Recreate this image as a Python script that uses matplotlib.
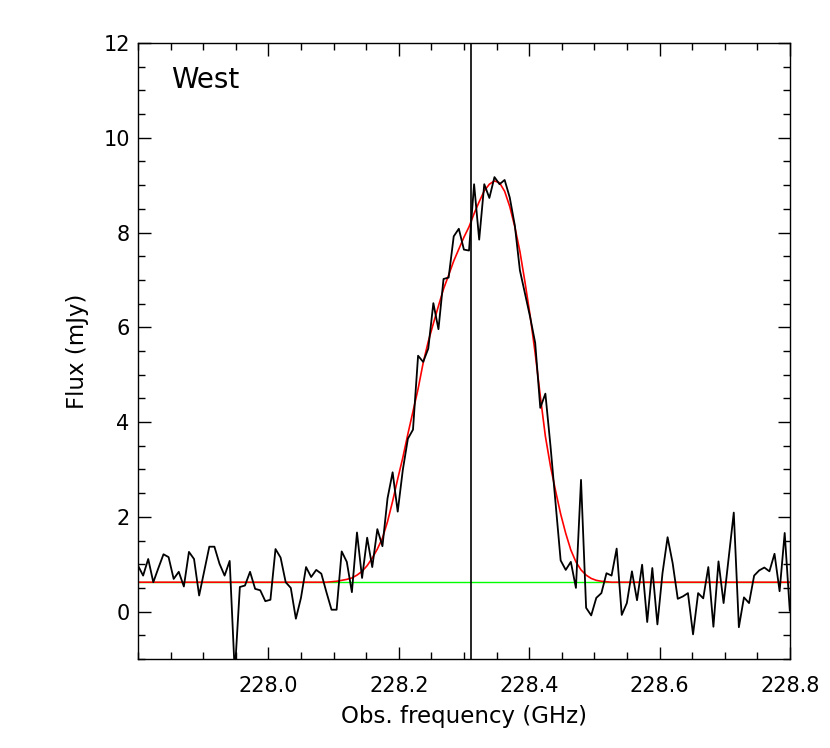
import numpy as np
import matplotlib
matplotlib.use("Agg")
import matplotlib.pyplot as plt
from matplotlib.ticker import MultipleLocator

# spectrum channels (GHz)
freq_start = 227.8
chan_width = 0.00781

flux = [
    0.97, 0.76, 1.11, 0.62, 0.92, 1.21, 1.15, 0.69, 0.84, 0.53,
    1.26, 1.11, 0.34, 0.85, 1.37, 1.37, 1.01, 0.76, 1.07, -1.3,
    0.52, 0.55, 0.84, 0.48, 0.45, 0.22, 0.25, 1.32, 1.14, 0.62,
    0.50, -0.15, 0.29, 0.94, 0.73, 0.88, 0.80, 0.41, 0.04, 0.04,
    1.27, 1.05, 0.41, 1.67, 0.71, 1.56, 0.94, 1.74, 1.38, 2.39,
    2.94, 2.11, 2.99, 3.65, 3.84, 5.40, 5.27, 5.55, 6.51, 5.96,
    7.02, 7.05, 7.92, 8.08, 7.64, 7.62, 9.02, 7.85, 9.02, 8.73,
    9.17, 9.02, 9.11, 8.74, 8.15, 7.20, 6.71, 6.22, 5.67, 4.30,
    4.60, 3.50, 2.30, 1.08, 0.88, 1.05, 0.50, 2.78, 0.08, -0.08,
    0.29, 0.39, 0.81, 0.76, 1.33, -0.07, 0.18, 0.85, 0.24, 0.99,
    -0.22, 0.92, -0.27, 0.81, 1.57, 1.02, 0.27, 0.32, 0.39, -0.48,
    0.39, 0.28, 0.94, -0.32, 1.06, 0.18, 1.14, 2.09, -0.33, 0.30,
    0.18, 0.76, 0.87, 0.93, 0.85, 1.22, 0.43, 1.66, 0.02,
]

# continuum level and fitted line profile (channels 38-92), mJy
continuum = 0.62
fit_first_chan = 38
fit_core = [
    0.63, 0.64, 0.66, 0.68, 0.71, 0.77, 0.85, 0.97, 1.13, 1.32,
    1.55, 1.90, 2.33, 2.80, 3.25, 3.75, 4.22, 4.70, 5.25, 5.70,
    6.08, 6.45, 6.81, 7.10, 7.40, 7.65, 7.90, 8.12, 8.40, 8.65,
    8.88, 9.02, 9.09, 9.05, 8.87, 8.55, 8.12, 7.60, 6.95, 6.25,
    5.45, 4.55, 3.70, 3.07, 2.55, 2.06, 1.65, 1.30, 1.05, 0.88,
    0.77, 0.70, 0.66, 0.64, 0.63,
]

line_freq = 228.31
x_ticks = [228.0, 228.2, 228.4, 228.6, 228.8]
y_ticks = [0, 2, 4, 6, 8, 10, 12]

n = len(flux)
freq = freq_start + chan_width * np.arange(n)
fit = np.full(n, continuum)
fit[fit_first_chan:fit_first_chan + len(fit_core)] = fit_core

fig = plt.figure(figsize=(8.3, 7.48), dpi=100)
ax = fig.add_axes([0.1663, 0.119, 0.7855, 0.8235])

ax.axhline(continuum, color="#00ff00", lw=1.0, zorder=1)
ax.plot(freq, fit, color="red", lw=1.2, zorder=2)
ax.plot(freq, flux, color="black", lw=1.3, zorder=3)
ax.axvline(line_freq, color="black", lw=1.2, zorder=4)

ax.set_xlim(227.8, 228.8)
ax.set_ylim(-1, 12)
ax.set_xticks(x_ticks)
ax.set_xticklabels([f"{v:.1f}" for v in x_ticks])
ax.set_yticks(y_ticks)
ax.set_yticklabels([str(v) for v in y_ticks])
ax.xaxis.set_minor_locator(MultipleLocator(0.05))
ax.yaxis.set_minor_locator(MultipleLocator(0.5))

ax.tick_params(which="both", direction="in", top=True, right=True, width=1.0)
ax.tick_params(which="major", length=9, labelsize=15)
ax.tick_params(which="minor", length=5)
ax.tick_params(axis="x", which="major", pad=12)
ax.tick_params(axis="y", which="major", pad=6)
for s in ax.spines.values():
    s.set_linewidth(1.0)

ax.set_xlabel("Obs. frequency (GHz)", fontsize=16.5, labelpad=7)
ax.set_ylabel("Flux (mJy)", fontsize=16.5, labelpad=10)
ax.text(0.05, 0.962, "West", transform=ax.transAxes, fontsize=20,
        ha="left", va="top")

fig.savefig("out.png", dpi=100)
